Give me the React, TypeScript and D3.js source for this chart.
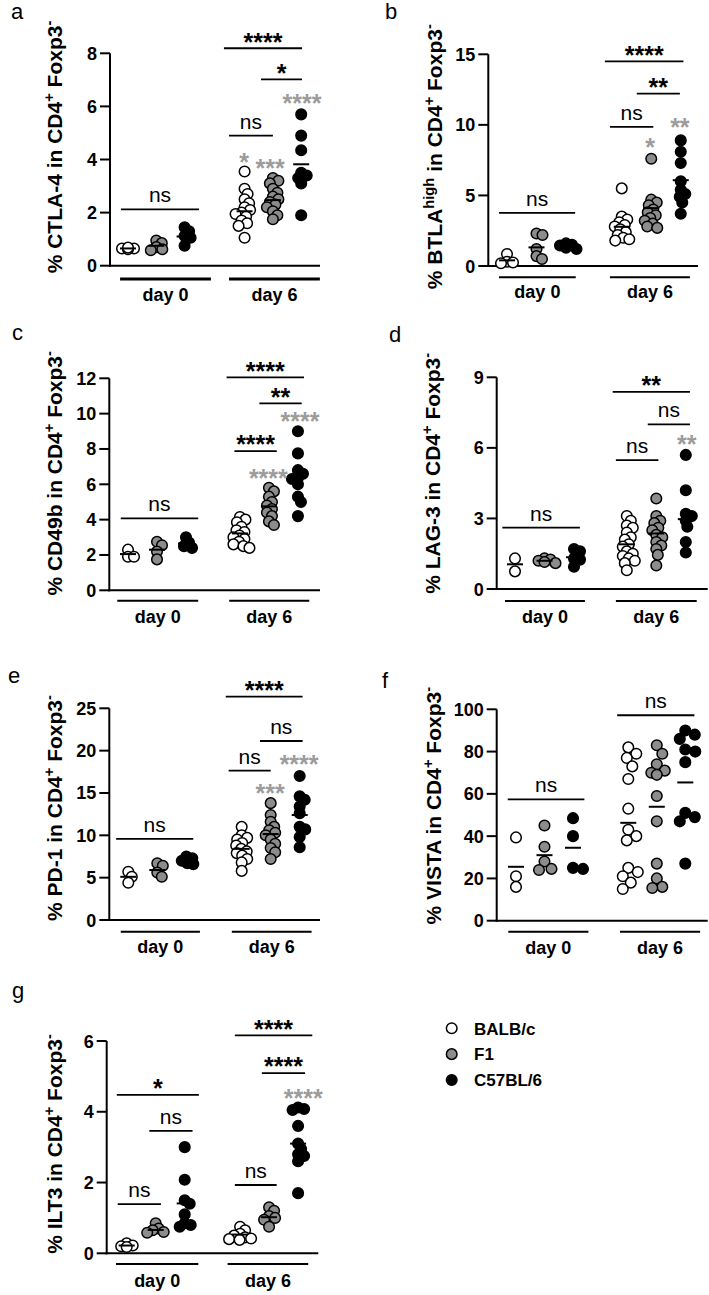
import React from "react";
import * as d3 from "d3";

// ---------- shared ----------
const groupNames = ["BALB/c", "F1", "C57BL/6"];
const dayLabels = ["day 0", "day 6"];
const groupFills = ["#ffffff", "#8c8c8c", "#000000"];

// ---------- a: CTLA-4 ----------
const ctla4Values = [
  [0.65, 0.65, 0.62, 0.68],
  [0.95, 0.85, 0.7, 0.62, 0.58],
  [1.45, 1.3, 1.12, 1.05, 0.75],
  [3.55, 2.9, 2.7, 2.5, 2.35, 2.2, 2.1, 2.0, 1.95, 1.85, 1.7, 1.6, 1.5, 1.05],
  [3.3, 3.2, 3.1, 2.9, 2.75, 2.6, 2.5, 2.4, 2.3, 2.2, 2.05, 1.9, 1.75],
  [5.7, 4.9, 4.35, 3.5, 3.4, 3.3, 3.1, 1.9],
];
const ctla4Means = [0.65, 0.75, 1.1, 2.05, 2.47, 3.82];
const ctla4Ticks = [0, 2, 4, 6, 8];
const ctla4Brackets: [number, number, number, string][] = [
  [-0.25, 2.51, 2.12, "ns"],
  [3.39, 6.15, 8.19, "****"],
  [4.7, 6.15, 7.02, "*"],
  [3.57, 5.12, 4.9, "ns"],
];
const ctla4Gray: [number, number, string][] = [
  [4.1, 4.09, "*"],
  [5.02, 3.87, "***"],
  [6.15, 6.32, "****"],
];

// ---------- b: BTLA ----------
const btlaValues = [
  [0.85, 0.3, 0.2, 0.25],
  [2.3, 2.2, 1.2, 0.7, 0.5],
  [1.6, 1.5, 1.45, 1.35, 1.3, 1.2],
  [5.5, 3.5, 3.3, 3.1, 2.9, 2.8, 2.6, 2.4, 2.2, 2.0, 1.9, 1.8],
  [7.6, 4.7, 4.5, 4.3, 4.0, 3.8, 3.6, 3.4, 3.2, 3.0, 2.8, 2.7],
  [8.9, 8.1, 7.3, 6.0, 5.4, 5.1, 4.9, 4.5, 3.7],
];
const btlaMeans = [0.4, 1.32, 1.4, 2.78, 4.1, 6.08];
const btlaTicks = [0, 5, 10, 15];
const btlaBrackets: [number, number, number, string][] = [
  [-0.27, 2.31, 3.77, "ns"],
  [3.32, 5.98, 14.5, "****"],
  [4.4, 5.86, 12.22, "**"],
  [3.49, 4.96, 9.86, "ns"],
];
const btlaGray: [number, number, string][] = [
  [4.85, 8.8, "*"],
  [5.86, 10.21, "**"],
];

// ---------- c: CD49b ----------
const cd49bValues = [
  [2.3, 1.9, 1.9],
  [2.75, 2.55, 2.2, 1.75],
  [3.0, 2.7, 2.5, 2.4],
  [4.15, 4.0, 3.85, 3.6, 3.4, 3.3, 3.1, 3.0, 2.9, 2.75, 2.6, 2.5, 2.4],
  [5.8, 5.6, 5.3, 5.0, 4.8, 4.6, 4.4, 4.2, 3.9, 3.7],
  [9.0, 7.75, 6.8, 6.6, 6.35, 6.3, 6.0, 5.3, 5.0, 4.2],
];
const cd49bMeans = [2.05, 2.3, 2.65, 3.22, 4.75, 6.35];
const cd49bTicks = [0, 2, 4, 6, 8, 10, 12];
const cd49bBrackets: [number, number, number, string][] = [
  [-0.25, 2.42, 4.07, "ns"],
  [3.4, 6.07, 12.05, "****"],
  [4.53, 5.99, 10.58, "**"],
  [3.67, 5.13, 7.88, "****"],
];
const cd49bGray: [number, number, string][] = [
  [5.93, 9.88, "****"],
  [4.84, 6.68, "****"],
];

// ---------- d: LAG-3 ----------
const lag3Values = [
  [1.3, 0.75],
  [1.3, 1.25, 1.2, 1.15, 1.1],
  [1.7, 1.6, 1.3, 1.25, 0.95],
  [3.1, 2.9, 2.7, 2.6, 2.4, 2.2, 2.1, 1.9, 1.8, 1.6, 1.5, 1.4, 1.3, 1.2, 1.1, 0.8],
  [3.85, 3.1, 2.9, 2.8, 2.6, 2.5, 2.3, 2.2, 2.0, 1.85, 1.7, 1.45, 1.0],
  [5.7, 4.2, 3.2, 3.1, 2.9, 2.65, 2.0, 1.55],
];
const lag3Means = [1.05, 1.2, 1.35, 1.9, 2.36, 2.97];
const lag3Ticks = [0, 3, 6, 9];
const lag3Brackets: [number, number, number, string][] = [
  [-0.43, 2.2, 2.61, "ns"],
  [3.31, 5.93, 8.38, "**"],
  [4.5, 5.93, 7.0, "ns"],
  [3.42, 4.86, 5.48, "ns"],
];
const lag3Gray: [number, number, string][] = [[5.82, 6.37, "**"]];

// ---------- e: PD-1 ----------
const pd1Values = [
  [5.7, 5.1, 4.4],
  [6.7, 6.4, 5.6, 5.1],
  [7.5, 7.3, 7.0, 6.7, 6.6],
  [11.0, 10.0, 9.7, 9.5, 9.1, 8.8, 8.4, 8.1, 7.9, 7.6, 7.2, 6.8, 5.8],
  [13.8, 12.4, 11.6, 11.0, 10.6, 10.3, 10.0, 9.5, 9.0, 8.5, 8.0, 7.2],
  [17.0, 14.6, 14.2, 13.4, 12.6, 11.0, 10.7, 9.8, 8.6],
];
const pd1Means = [5.1, 5.9, 7.0, 8.4, 10.15, 12.4];
const pd1Ticks = [0, 5, 10, 15, 20, 25];
const pd1Brackets: [number, number, number, string][] = [
  [-0.42, 2.24, 9.57, "ns"],
  [3.36, 6.01, 26.37, "****"],
  [4.54, 6.01, 21.14, "ns"],
  [3.46, 4.91, 17.63, "ns"],
];
const pd1Gray: [number, number, string][] = [
  [5.89, 19.02, "****"],
  [4.89, 15.59, "***"],
];

// ---------- f: VISTA ----------
const vistaValues = [
  [39.4, 21, 16],
  [45, 35, 28, 24.5, 24],
  [48.5, 40, 25, 24.5],
  [82, 79, 77, 73, 67, 53, 43, 40, 38, 25, 23, 21, 18, 15],
  [83, 79, 74, 71, 70, 69, 59, 47, 27, 20, 16, 15.5],
  [90, 88, 86, 81, 80, 75, 51, 49, 47, 27],
];
const vistaMeans = [25.5, 31, 34.5, 46.3, 53.9, 65.4];
const vistaTicks = [0, 20, 40, 60, 80, 100];
const vistaBrackets: [number, number, number, string][] = [
  [-0.29, 2.4, 57.35, "ns"],
  [3.55, 6.26, 97.18, "ns"],
];
const vistaGray: [number, number, string][] = [];

// ---------- g: ILT3 ----------
const ilt3Values = [
  [0.28, 0.22, 0.2, 0.18],
  [0.85, 0.7, 0.65, 0.6, 0.58],
  [3.0, 2.08, 1.5, 1.4, 1.1, 0.85, 0.8, 0.75],
  [0.75, 0.65, 0.55, 0.5, 0.45, 0.42, 0.4, 0.38],
  [1.3, 1.2, 1.05, 1.0, 0.95, 0.75],
  [4.12, 4.08, 4.05, 3.6, 3.1, 2.95, 2.8, 2.75, 2.6, 1.7],
];
const ilt3Means = [0.22, 0.66, 1.41, 0.53, 1.02, 3.1];
const ilt3Ticks = [0, 2, 4, 6];
const ilt3Brackets: [number, number, number, string][] = [
  [-0.34, 2.49, 4.48, "*"],
  [0.78, 2.27, 3.46, "ns"],
  [-0.31, 1.18, 1.39, "ns"],
  [3.73, 6.4, 6.16, "****"],
  [4.66, 6.15, 5.09, "****"],
  [3.73, 5.17, 1.93, "ns"],
];
const ilt3Gray: [number, number, string][] = [[6.09, 4.53, "****"]];

// ---------- layout (positions only) ----------
type Layout = {
  letter: string; lx: number; ly: number;
  axisX: number; right: number; y0: number; yTop: number;
  slot0: number; step: number; day6: number;
  dayLines: [number, number][]; dayOff: number; dayW: number; labelOff: number;
  titleX: number; titleY: number; spread: number;
};

const FONT = "'Liberation Sans', Arial, Helvetica, sans-serif";

const panels = [
  { title: ["% CTLA-4 in CD4", "+", " Foxp3", "-"], values: ctla4Values, means: ctla4Means, ticks: ctla4Ticks, brackets: ctla4Brackets, gray: ctla4Gray,
    layout: { letter: "a", lx: 11, ly: 19, axisX: 110, right: 320, y0: 265.7, yTop: 53.3, slot0: 128, step: 28.3, day6: 4.12,
      dayLines: [[-0.28, 2.93], [3.57, 6.78]], dayOff: 13.3, dayW: 3, labelOff: 35.3, titleX: 62, titleY: 147, spread: 6 } as Layout },
  { title: ["% BTLA", "high", " in CD4", "+", " Foxp3", "-"], values: btlaValues, means: btlaMeans, ticks: btlaTicks, brackets: btlaBrackets, gray: btlaGray,
    layout: { letter: "b", lx: 385, ly: 19, axisX: 488.3, right: 698, y0: 266, yTop: 54.3, slot0: 507, step: 29.5, day6: 3.89,
      dayLines: [[-0.27, 2.33], [3.49, 6.2]], dayOff: 11.3, dayW: 2, labelOff: 31.7, titleX: 441.5, titleY: 156.7, spread: 6 } as Layout },
  { title: ["% CD49b in CD4", "+", " Foxp3", "-"], values: cd49bValues, means: cd49bMeans, ticks: cd49bTicks, brackets: cd49bBrackets, gray: cd49bGray,
    layout: { letter: "c", lx: 12, ly: 340, axisX: 109.3, right: 320, y0: 590.3, yTop: 378.3, slot0: 128, step: 29, day6: 3.86,
      dayLines: [[-0.37, 2.42], [3.49, 6.25]], dayOff: 10.4, dayW: 2, labelOff: 33, titleX: 62, titleY: 473.3, spread: 6 } as Layout },
  { title: ["% LAG-3 in CD4", "+", " Foxp3", "-"], values: lag3Values, means: lag3Means, ticks: lag3Ticks, brackets: lag3Brackets, gray: lag3Gray,
    layout: { letter: "d", lx: 389, ly: 342, axisX: 496.7, right: 707.7, y0: 589, yTop: 377.3, slot0: 515, step: 29.5, day6: 3.79,
      dayLines: [[-0.34, 2.37], [3.42, 6.16]], dayOff: 12, dayW: 2, labelOff: 34.3, titleX: 440, titleY: 473.3, spread: 6 } as Layout },
  { title: ["% PD-1 in CD4", "+", " Foxp3", "-"], values: pd1Values, means: pd1Means, ticks: pd1Ticks, brackets: pd1Brackets, gray: pd1Gray,
    layout: { letter: "e", lx: 8, ly: 683, axisX: 109.3, right: 320, y0: 920, yTop: 708.3, slot0: 128.3, step: 29, day6: 3.91,
      dayLines: [[-0.26, 2.47], [3.57, 6.32]], dayOff: 11.7, dayW: 2, labelOff: 33, titleX: 62, titleY: 808, spread: 6 } as Layout },
  { title: ["% VISTA in CD4", "+", " Foxp3", "-"], values: vistaValues, means: vistaMeans, ticks: vistaTicks, brackets: vistaBrackets, gray: vistaGray,
    layout: { letter: "f", lx: 382, ly: 688, axisX: 496.7, right: 707.7, y0: 920.7, yTop: 709.3, slot0: 516, step: 28.5, day6: 3.94,
      dayLines: [[-0.27, 2.54], [3.65, 6.46]], dayOff: 11, dayW: 2, labelOff: 33, titleX: 441, titleY: 805.7, spread: 10 } as Layout },
  { title: ["% ILT3 in CD4", "+", " Foxp3", "-"], values: ilt3Values, means: ilt3Means, ticks: ilt3Ticks, brackets: ilt3Brackets, gray: ilt3Gray,
    layout: { letter: "g", lx: 12, ly: 998, axisX: 106.7, right: 318.3, y0: 1253.3, yTop: 1041, slot0: 126.7, step: 29, day6: 3.91,
      dayLines: [[-0.37, 2.47], [3.48, 6.26]], dayOff: 10.7, dayW: 2, labelOff: 33.4, titleX: 62, titleY: 1144, spread: 6 } as Layout },
];

const R = 5.3;

function swarm(vals: number[], y: (v: number) => number, cx: number, minDist: number) {
  const order = vals.map((v, i) => ({ v, i })).sort((a, b) => b.v - a.v);
  const placed: { x: number; y: number }[] = [];
  const out: { x: number; y: number }[] = new Array(vals.length);
  for (const { v, i } of order) {
    const py = y(v);
    let chosen = 0;
    for (let k = 0; k < 400; k++) {
      const dx = k % 2 === 1 ? Math.ceil(k / 2) * 0.5 : -(k / 2) * 0.5;
      if (Math.abs(dx) > 11) {
        chosen = 0;
        break;
      }
      if (placed.every((p) => (p.x - dx) ** 2 + (p.y - py) ** 2 >= minDist * minDist)) {
        chosen = dx;
        break;
      }
    }
    placed.push({ x: chosen, y: py });
    out[i] = { x: cx + chosen, y: py };
  }
  return out;
}

function Panel({ p }: { p: (typeof panels)[number] }) {
  const L = p.layout;
  const max = p.ticks[p.ticks.length - 1];
  const y = d3.scaleLinear().domain([0, max]).range([L.y0, L.yTop]);
  const x = d3.scaleLinear().domain([0, 1]).range([L.slot0, L.slot0 + L.step]);
  const slot = (i: number) => (i < 3 ? i : L.day6 + i - 3);
  const starFs = 25;
  const sup = (s: string, k: number) => (
    <tspan key={k} baselineShift="super" fontSize="70%">{s}</tspan>
  );
  return (
    <g>
      <text x={L.lx} y={L.ly} fontSize={22} fontFamily={FONT}>{L.letter}</text>
      {/* y axis title */}
      <text
        transform={`translate(${L.titleX},${L.titleY}) rotate(-90)`}
        textAnchor="middle"
        fontSize={21}
        fontWeight="bold"
        fontFamily={FONT}
      >
        {p.title.map((s, k) => (k % 2 === 1 ? sup(s, k) : <tspan key={k}>{s}</tspan>))}
      </text>
      {/* axes */}
      <line x1={L.axisX} x2={L.axisX} y1={y(0) + 1} y2={y(max)} stroke="#000" strokeWidth={2} />
      <line x1={L.axisX - 1} x2={L.right} y1={y(0)} y2={y(0)} stroke="#000" strokeWidth={2} />
      {p.ticks.map((t) => (
        <g key={t}>
          <line x1={L.axisX - 10} x2={L.axisX} y1={y(t)} y2={y(t)} stroke="#000" strokeWidth={2} />
          <text x={L.axisX - 13} y={y(t) + 6.5} textAnchor="end" fontSize={18} fontWeight="bold" fontFamily={FONT}>
            {t}
          </text>
        </g>
      ))}
      {/* day group lines */}
      {L.dayLines.map((dl, k) => (
        <g key={k}>
          <line x1={x(dl[0])} x2={x(dl[1])} y1={y(0) + L.dayOff} y2={y(0) + L.dayOff} stroke="#000" strokeWidth={L.dayW} />
          <text x={(x(dl[0]) + x(dl[1])) / 2} y={y(0) + L.labelOff} textAnchor="middle" fontSize={18} fontWeight="bold" fontFamily={FONT}>
            {dayLabels[k]}
          </text>
        </g>
      ))}
      {/* points */}
      {p.values.map((vals, gi) => {
        const cx = x(slot(gi));
        const pts = swarm(vals, y, cx, L.spread);
        return (
          <g key={gi}>
            {pts.map((pt, j) => (
              <circle key={j} cx={pt.x} cy={pt.y} r={R} fill={groupFills[gi % 3]} stroke="#000" strokeWidth={1.5} />
            ))}
          </g>
        );
      })}
      {/* means */}
      {p.means.map((m, gi) => {
        const cx = x(slot(gi));
        return <line key={gi} x1={cx - 8} x2={cx + 8} y1={y(m)} y2={y(m)} stroke="#000" strokeWidth={2} />;
      })}
      {/* brackets */}
      {p.brackets.map(([a, b, v, lab], k) => {
        const yy = y(v);
        const mid = (x(a) + x(b)) / 2;
        const isStar = lab.includes("*");
        return (
          <g key={k}>
            <line x1={x(a)} x2={x(b)} y1={yy} y2={yy} stroke="#000" strokeWidth={1.8} />
            {isStar ? (
              <text x={mid} y={yy - 12 + starFs * 0.57} textAnchor="middle" fontSize={starFs} fontWeight="bold" fontFamily={FONT}>
                {lab}
              </text>
            ) : (
              <text x={mid} y={yy - 7} textAnchor="middle" fontSize={21} fontFamily={FONT}>
                {lab}
              </text>
            )}
          </g>
        );
      })}
      {/* grey significance vs BALB/c */}
      {p.gray.map(([s, v, lab], k) => (
        <text key={k} x={x(s)} y={y(v) + starFs * 0.57} textAnchor="middle" fontSize={starFs} fontWeight="bold" fill="#9c9c9c" fontFamily={FONT}>
          {lab}
        </text>
      ))}
    </g>
  );
}

function Legend() {
  const ly = d3.scalePoint<number>().domain([0, 1, 2]).range([1028.3, 1080]);
  return (
    <g>
      {groupNames.map((n, i) => (
        <g key={n}>
          <circle cx={451.7} cy={ly(i)!} r={R} fill={groupFills[i]} stroke="#000" strokeWidth={1.5} />
          <text x={474} y={ly(i)! + 6.2} fontSize={17} fontWeight="bold" fontFamily={FONT}>
            {n}
          </text>
        </g>
      ))}
    </g>
  );
}

export default function App() {
  return (
    <svg
      width={709}
      height={1295}
      viewBox="0 0 709 1295"
      style={{ position: "absolute", left: 0, top: 0, background: "#fff", display: "block" }}
    >
      <rect x={0} y={0} width={709} height={1295} fill="#fff" />
      {panels.map((p, i) => (
        <Panel key={i} p={p} />
      ))}
      <Legend />
    </svg>
  );
}
